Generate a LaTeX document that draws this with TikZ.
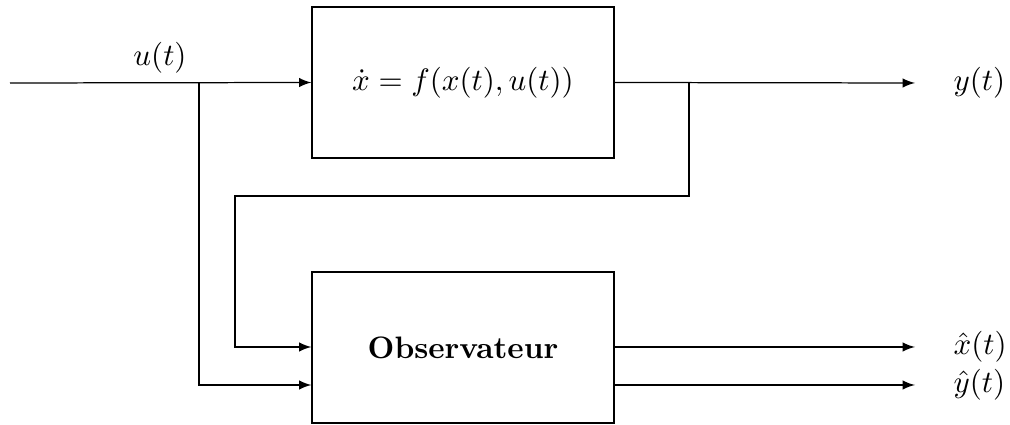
\documentclass[tikz,border=0pt]{standalone}
\usetikzlibrary{calc}
\begin{document}
\begin{tikzpicture}[x=0.3226pt,y=-0.3226pt,>=latex,
  box/.style={draw, minimum width=97.4pt, minimum height=48.7pt, inner sep=0pt},
  lbl/.style={anchor=west, inner sep=0pt}]
\useasboundingbox (0,0) rectangle (1010,425);
\node[box] (sys) at (463,82.5) {$\dot{x} = f(x(t),u(t))$};
\node[box, font=\bfseries] (obs) at (463,347.5) {Observateur};
\coordinate (in) at (10,83);
\coordinate (b1) at (199,83);
\coordinate (b2) at (689,83);
\coordinate (f2) at (689,196);
\coordinate (f1) at (235,196);
\coordinate (yend) at (915,83);
\coordinate (xend) at (915,347);
\coordinate (yhend) at (915,385);
\node (u) at (160,58) {$u(t)$};
\node[lbl] (y) at (953,83) {$y(t)$};
\node[lbl] (xh) at (953,347) {$\hat{x}(t)$};
\node[lbl] (yh) at (953,385) {$\hat{y}(t)$};
\coordinate (oi1) at ($(obs.west)+(0,-0.5)$);
\coordinate (oi2) at ($(obs.west)+(0,37.5)$);
\coordinate (oo1) at ($(obs.east)+(0,-0.5)$);
\coordinate (oo2) at ($(obs.east)+(0,37.5)$);
\draw[->] (in) -- (sys.west);
\draw[->] (sys.east) -- (yend);
\draw[->] (b2) -- (f2) -- (f1) |- (oi1);
\draw[->] (b1) |- (oi2);
\draw[->] (oo1) -- (xend);
\draw[->] (oo2) -- (yhend);
\end{tikzpicture}
\end{document}
